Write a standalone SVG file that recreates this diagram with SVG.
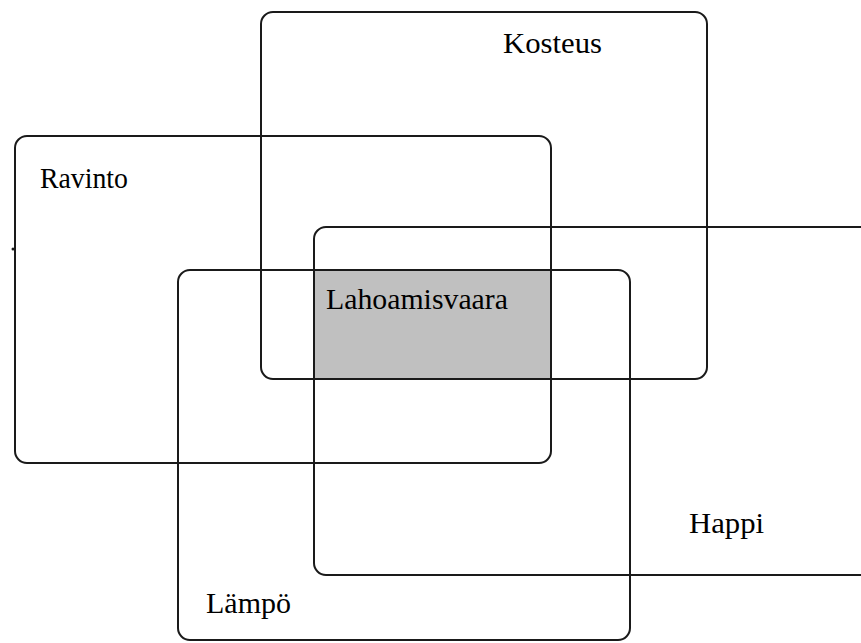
<svg xmlns="http://www.w3.org/2000/svg" width="861" height="643" viewBox="0 0 861 643">
<style>
.box{fill:none;stroke:#1a1a1a;stroke-width:2}
.lbl{font-family:"Liberation Serif","Times New Roman",serif;font-size:29px;fill:#000}
</style>
<rect x="0" y="0" width="861" height="643" fill="#fff"/>
<g id="intersection">
<rect x="314" y="270" width="237" height="109" fill="#c0c0c0"/>
<text class="lbl" x="326" y="309" textLength="182" lengthAdjust="spacingAndGlyphs">Lahoamisvaara</text>
</g>
<g id="kosteus">
<rect class="box" x="261" y="12" width="446" height="367" rx="12"/>
<text class="lbl" x="503" y="53" textLength="99" lengthAdjust="spacingAndGlyphs">Kosteus</text>
</g>
<g id="ravinto">
<rect class="box" x="15" y="136" width="536" height="327" rx="12"/>
<text class="lbl" x="40" y="188" textLength="88" lengthAdjust="spacingAndGlyphs">Ravinto</text>
<circle cx="13" cy="249" r="1.5" fill="#1a1a1a"/>
</g>
<g id="happi">
<rect class="box" x="314" y="227" width="580" height="348" rx="12"/>
<text class="lbl" x="689" y="533" textLength="75" lengthAdjust="spacingAndGlyphs">Happi</text>
</g>
<g id="lampo">
<rect class="box" x="178" y="270" width="452" height="370" rx="12"/>
<text class="lbl" x="206" y="613" textLength="85" lengthAdjust="spacingAndGlyphs">Lämpö</text>
</g>
<g id="connectors"></g>
</svg>
